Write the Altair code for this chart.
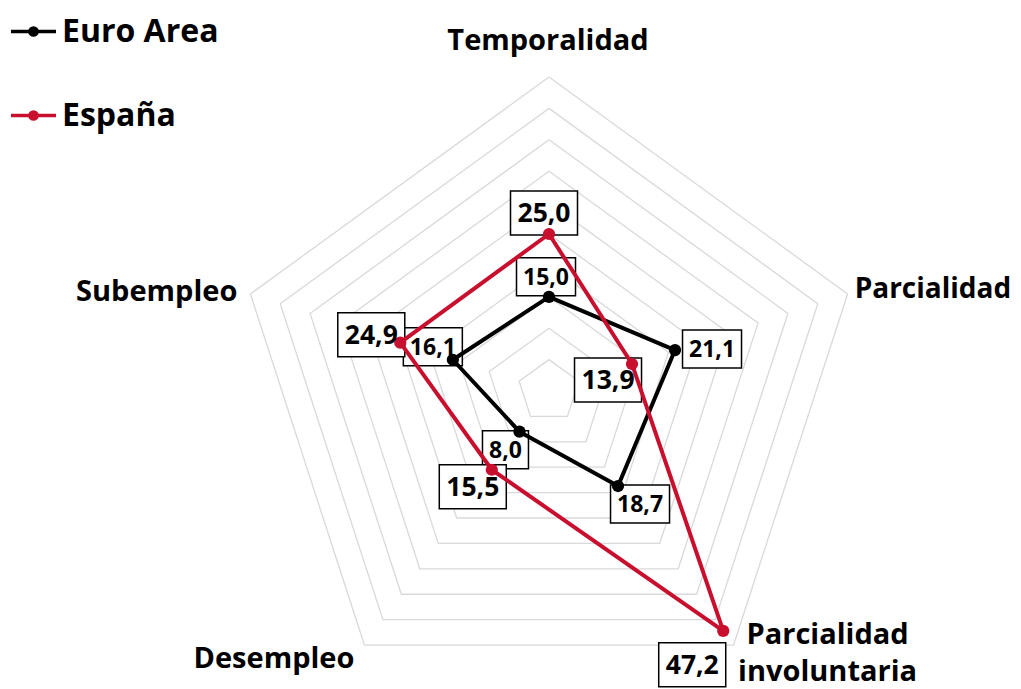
import altair as alt
import pandas as pd

# ---------------- data ----------------
categories = ["Temporalidad", "Parcialidad", "Parcialidad involuntaria", "Desempleo", "Subempleo"]
euro_area = [15.0, 21.1, 18.7, 8.0, 16.1]
espana = [25.0, 13.9, 47.2, 15.5, 24.9]
series_names = ["Euro Area", "España"]
grid_levels = [5, 10, 15, 20, 25, 30, 35, 40, 45, 50]

# ---------------- styles / layout ----------------
series_colors = ["#000000", "#C8102E"]
FONT = "Open Sans"
W, H = 1005, 681
PX = 6.28                      # pixels per value unit
CX, CY = 541, 383              # centre of the radar inside the chart
X0, X1 = -CX / PX, (W - CX) / PX
Y1, Y0 = CY / PX, -(H - CY) / PX
N = len(categories)

rows = []
for name, vals in zip(series_names, [euro_area, espana]):
    for k in range(N + 1):
        rows.append({"serie": name, "categoria": categories[k % N], "k": k, "valor": vals[k % N]})
series_df = pd.DataFrame(rows)
grid_df = pd.DataFrame([{"nivel": lv, "k": k, "valor": lv} for lv in grid_levels for k in range(N + 1)])
cat_df = pd.DataFrame({"categoria": categories, "k": list(range(N)), "valor": [max(grid_levels)] * N})

xcalc = f"datum.valor * sin(datum.k * 2 * PI / {N})"
ycalc = f"datum.valor * cos(datum.k * 2 * PI / {N})"

x_enc = alt.X("x:Q", scale=alt.Scale(domain=[X0, X1], nice=False, zero=False), axis=None)
y_enc = alt.Y("y:Q", scale=alt.Scale(domain=[Y0, Y1], nice=False, zero=False), axis=None)

legend_path = "M-1,0L1,0M0.16,0A0.16,0.16,0,1,1,-0.16,0A0.16,0.16,0,1,1,0.16,0Z"
legend = alt.Legend(
    orient="none", legendX=1, legendY=-1, title=None, padding=0,
    symbolType=legend_path, symbolSize=2025, symbolStrokeWidth=3.5, symbolOpacity=1,
    labelFont=FONT, labelFontSize=32, labelFontWeight="bold", labelColor="black",
    labelOffset=4, rowPadding=43, labelLimit=400,
)
color_enc = alt.Color("serie:N", scale=alt.Scale(domain=series_names, range=series_colors), legend=legend)

layers = []

# grid pentagons
layers.append(
    alt.Chart(grid_df).transform_calculate(x=xcalc, y=ycalc)
    .mark_line(color="#d9d9d9", strokeWidth=1.3)
    .encode(x=x_enc, y=y_enc, detail="nivel:N", order="k:Q")
)

# value label boxes (drawn under the lines)
label_offsets = {
    ("Euro Area", "Temporalidad"): (-3, -20),
    ("Euro Area", "Parcialidad"): (37, -1),
    ("Euro Area", "Parcialidad involuntaria"): (22, 18),
    ("Euro Area", "Desempleo"): (-14, 18),
    ("Euro Area", "Subempleo"): (-20, -13),
    ("España", "Temporalidad"): (-5, -21),
    ("España", "Parcialidad"): (-24, 16),
    ("España", "Parcialidad involuntaria"): (-31, 34),
    ("España", "Desempleo"): (-19, 17),
    ("España", "Subempleo"): (-29, -8),
}
label_style = {"Euro Area": (23, 59, 38), "España": (26.5, 67, 44)}

text_layers = []
for (serie, cat), (ox, oy) in label_offsets.items():
    fs, bw, bh = label_style[serie]
    vals = euro_area if serie == "Euro Area" else espana
    v = vals[categories.index(cat)]
    if v < 10:
        bw = 46
    r = bh / bw
    box_path = f"M-1,{-r}L1,{-r}L1,{r}L-1,{r}Z"
    base = (
        alt.Chart(series_df)
        .transform_filter(f"datum.serie == '{serie}' && datum.categoria == '{cat}' && datum.k < {N}")
        .transform_calculate(x=xcalc, y=ycalc, etiqueta="replace(format(datum.valor, '.1f'), '.', ',')")
    )
    layers.append(
        base.mark_point(shape=box_path, size=bw * bw, filled=True, fill="white", stroke="black",
                        strokeWidth=1.5, opacity=1, xOffset=ox, yOffset=oy)
        .encode(x=x_enc, y=y_enc)
    )
    text_layers.append(
        base.mark_text(font=FONT, fontWeight="bold", fontSize=fs, color="black",
                       align="center", baseline="middle", dx=ox, dy=oy + 1)
        .encode(x=x_enc, y=y_enc, text="etiqueta:N")
    )

# series lines and markers
for name in series_names:
    src = alt.Chart(series_df).transform_filter(f"datum.serie == '{name}'").transform_calculate(x=xcalc, y=ycalc)
    layers.append(
        src.mark_line(strokeWidth=4, strokeJoin="round")
        .encode(x=x_enc, y=y_enc, order="k:Q", color=color_enc)
    )
    layers.append(
        src.transform_filter(f"datum.k < {N}")
        .mark_circle(size=150, opacity=1)
        .encode(x=x_enc, y=y_enc, color=color_enc)
    )

layers.extend(text_layers)

# category labels: (align, dx, dy, fontSize)
cat_style = {
    "Temporalidad": ("center", -1, -36, 29),
    "Parcialidad": ("left", 7, -4, 28),
    "Parcialidad involuntaria": ("center", 94, -10, 29),
    "Desempleo": ("right", -10, 14, 29),
    "Subempleo": ("right", -13, -2, 29),
}
for cat, (al, dx, dy, fs) in cat_style.items():
    kw = dict(font=FONT, fontWeight="bold", fontSize=fs, color="black",
              align=al, baseline="middle", dx=dx, dy=dy)
    if " " in cat:
        kw.update(lineBreak=" ", lineHeight=37)
    layers.append(
        alt.Chart(cat_df).transform_filter(f"datum.categoria == '{cat}'")
        .transform_calculate(x=xcalc, y=ycalc)
        .mark_text(**kw)
        .encode(x=x_enc, y=y_enc, text="categoria:N")
    )

chart = (
    alt.layer(*layers)
    .properties(width=W, height=H, padding=0, autosize=alt.AutoSizeParams(type="none"))
    .configure_view(stroke=None)
)

chart.save("out.html", embed_options={"renderer": "svg", "actions": False})
